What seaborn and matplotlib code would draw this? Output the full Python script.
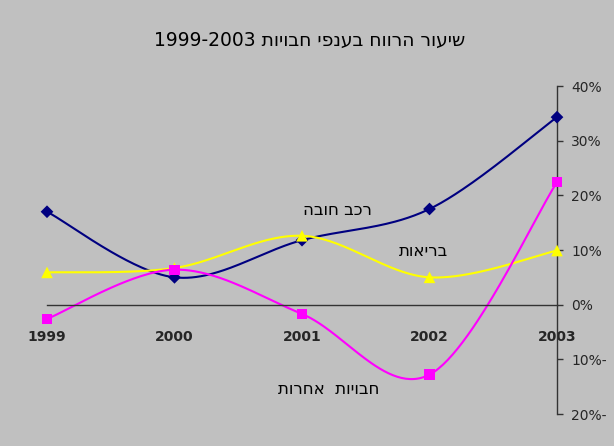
import re
import numpy as np
import pandas as pd
import matplotlib
matplotlib.use("Agg")
import matplotlib.pyplot as plt
import seaborn as sns

# Profit rate by liability line, 1999-2003 (percent)
years = ["1999", "2000", "2001", "2002", "2003"]
rechev_hova = [17.0, 5.0, 11.8, 17.5, 34.3]
briut = [5.9, 6.7, 12.6, 5.0, 9.9]
havuyot_aherot = [-2.6, 6.4, -1.7, -12.8, 22.4]

series_names = ["רכב חובה", "בריאות", "חבויות אחרות"]
series_values = [rechev_hova, briut, havuyot_aherot]
colors = ["#000080", "#FFFF00", "#FF00FF"]
markers = ["D", "^", "s"]
marker_sizes = [42, 70, 55]

y_ticks = [-20, -10, 0, 10, 20, 30, 40]
y_tick_labels = ["20%-", "10%-", "0%", "10%", "20%", "30%", "40%"]
title = "שיעור הרווח בענפי חבויות 1999-2003"

# in-plot series captions: (x in category units, y in percent)
caption_pos = [(2.28, 17.4), (2.95, 9.9), (2.21, -15.4)]
caption_text = ["רכב חובה", "בריאות", "חבויות  אחרות"]

BG = "#C0C0C0"
AXIS = "#333333"


def visual(s):
    """Reorder a right-to-left string for left-to-right glyph rendering."""
    ltr = r"[0-9A-Za-z%\-\.]"
    runs = re.findall(ltr + r"+|[^0-9A-Za-z%\-\.]+", s)
    out = []
    for r in reversed(runs):
        out.append(r if re.match(ltr, r) else r[::-1])
    return "".join(out)


def smooth(xs, ys, n=60):
    """Bezier smoothing through every point (Catmull-Rom style controls)."""
    p = np.column_stack([xs, ys]).astype(float)
    p_ext = np.vstack([p[0], p, p[-1]])
    pts = []
    t = np.linspace(0, 1, n)[:, None]
    for i in range(len(p) - 1):
        p0, p1, p2, p3 = p_ext[i], p_ext[i + 1], p_ext[i + 2], p_ext[i + 3]
        c1 = p1 + (p2 - p0) / 6.0
        c2 = p2 - (p3 - p1) / 6.0
        seg = ((1 - t) ** 3) * p1 + 3 * ((1 - t) ** 2) * t * c1 + 3 * (1 - t) * t ** 2 * c2 + t ** 3 * p2
        pts.append(seg if i == 0 else seg[1:])
    seg = np.vstack(pts)
    return seg[:, 0], seg[:, 1]


sns.set_style("white")
plt.rcParams["font.family"] = ["DejaVu Sans"]

x_pos = np.arange(len(years))
pts_rows, line_rows = [], []
for name, vals in zip(series_names, series_values):
    for xp, v in zip(x_pos, vals):
        pts_rows.append({"x": xp, "y": v, "series": name})
    sx, sy = smooth(x_pos, vals)
    for a, b in zip(sx, sy):
        line_rows.append({"x": a, "y": b, "series": name})
pts_df = pd.DataFrame(pts_rows)
line_df = pd.DataFrame(line_rows)
palette = dict(zip(series_names, colors))

fig = plt.figure(figsize=(6.14, 4.46), dpi=100, facecolor=BG)
ax = fig.add_axes([47 / 614, 32 / 446, 510 / 614, 328 / 446])
ax.set_facecolor(BG)

sns.lineplot(data=line_df, x="x", y="y", hue="series", palette=palette,
             sort=False, estimator=None, linewidth=1.5, legend=False, ax=ax)
for name, m, s in zip(series_names, markers, marker_sizes):
    sub = pts_df[pts_df["series"] == name]
    sns.scatterplot(data=sub, x="x", y="y", color=palette[name], marker=m,
                    s=s, edgecolor="none", legend=False, ax=ax, zorder=5, clip_on=False)

ax.set_xlim(0, 4)
ax.set_ylim(-20, 40)
ax.set_xlabel("")
ax.set_ylabel("")

for side in ["left", "top"]:
    ax.spines[side].set_visible(False)
ax.spines["bottom"].set_position(("data", 0))
ax.spines["bottom"].set_color(AXIS)
ax.spines["right"].set_color(AXIS)
ax.spines["bottom"].set_linewidth(1.0)
ax.spines["right"].set_linewidth(1.0)

ax.set_xticks(x_pos)
ax.set_xticklabels(years, fontweight="bold", fontsize=10)
ax.yaxis.tick_right()
ax.set_yticks(y_ticks)
ax.set_yticklabels(y_tick_labels, fontsize=10)
ax.tick_params(axis="x", direction="out", length=4.3, width=1.0, color=AXIS, pad=14)
ax.tick_params(axis="y", direction="out", length=4.3, width=1.0, color=AXIS, pad=6)
ax.grid(False)

for (cx, cy), txt in zip(caption_pos, caption_text):
    ax.text(cx, cy, visual(txt), ha="center", va="center", fontsize=12, color="black")

fig.text(310 / 614, 1 - 40 / 446, visual(title), ha="center", va="center",
         fontsize=13.5, color="black")

fig.savefig("out.png", dpi=100, facecolor=BG)
